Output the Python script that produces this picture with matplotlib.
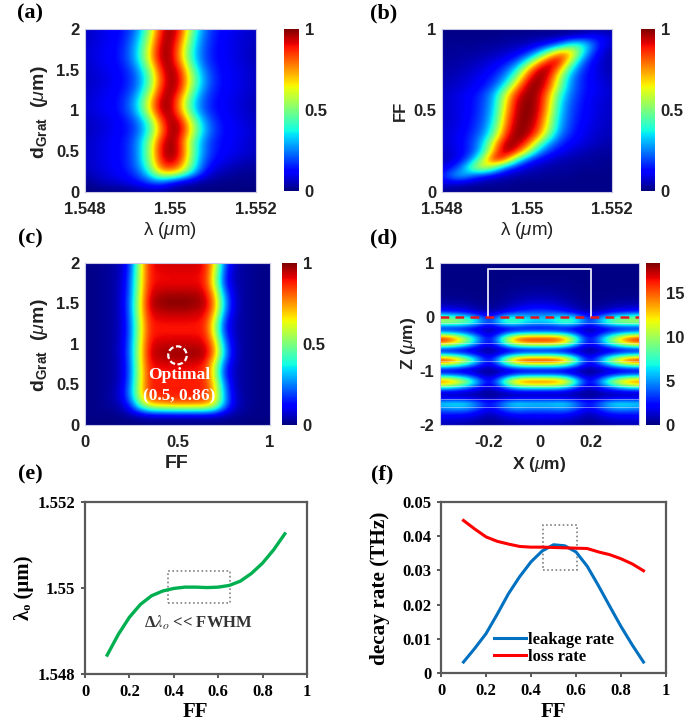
import numpy as np
import matplotlib
matplotlib.use('Agg')
import matplotlib.pyplot as plt
from matplotlib.patches import Rectangle, Ellipse

plt.rcParams['font.family'] = ['Liberation Sans', 'DejaVu Sans']
plt.rcParams['mathtext.fontset'] = 'custom'
plt.rcParams['mathtext.rm'] = 'Liberation Sans'
plt.rcParams['mathtext.it'] = 'Liberation Sans:italic'
plt.rcParams['mathtext.bf'] = 'Liberation Sans:bold'

W, H = 685, 721

# Panel (a): transmission in %, rows d = 2 .. 0, columns lambda = 1.548 .. 1.552
a_lam = [1.548, 1.552]
a_d = [0, 2]
a_map = [
    [6, 8, 10, 12, 16, 27, 50, 86, 100, 86, 50, 27, 16, 12, 10, 8, 6],
    [6, 8, 10, 12, 18, 31, 57, 91, 99, 80, 44, 24, 15, 11, 9, 7, 6],
    [7, 9, 11, 13, 20, 35, 64, 95, 98, 72, 39, 22, 14, 11, 9, 7, 5],
    [7, 9, 11, 13, 20, 35, 64, 95, 98, 72, 39, 22, 14, 11, 9, 7, 5],
    [6, 8, 10, 12, 16, 27, 50, 86, 100, 86, 50, 27, 16, 12, 10, 8, 6],
    [6, 7, 9, 11, 15, 24, 44, 80, 99, 91, 57, 31, 18, 12, 10, 8, 6],
    [6, 8, 10, 12, 16, 27, 50, 86, 100, 86, 50, 27, 16, 12, 10, 8, 6],
    [7, 9, 11, 13, 20, 35, 64, 95, 98, 72, 39, 22, 14, 11, 9, 7, 5],
    [7, 9, 11, 13, 20, 35, 64, 95, 98, 72, 39, 22, 14, 11, 9, 7, 5],
    [6, 7, 9, 11, 15, 24, 44, 80, 99, 91, 57, 31, 18, 12, 10, 8, 6],
    [5, 7, 9, 11, 14, 22, 39, 72, 98, 95, 64, 35, 20, 13, 11, 9, 7],
    [6, 8, 10, 12, 16, 27, 50, 86, 100, 86, 50, 27, 16, 12, 10, 8, 6],
    [6, 8, 10, 12, 16, 27, 52, 90, 100, 90, 52, 27, 16, 12, 10, 8, 6],
    [6, 8, 10, 12, 16, 27, 50, 86, 97, 84, 48, 24, 13, 9, 7, 5, 4],
    [5, 7, 9, 11, 15, 22, 40, 72, 80, 66, 40, 18, 7, 5, 3, 2, 2],
    [2, 4, 7, 8, 10, 14, 20, 22, 12, 5, 3, 2, 2, 1, 1, 1, 1],
    [0, 0, 0, 0, 0, 1, 1, 1, 1, 1, 1, 0, 0, 0, 0, 0, 0],
]

# Panel (b): transmission in %, rows FF = 1 .. 0, columns lambda = 1.548 .. 1.552
b_lam = [1.548, 1.552]
b_ff = [0, 1]
b_map = [
    [1, 1, 1, 1, 1, 1, 1, 1, 1, 1, 1, 1, 1, 1, 2, 2, 2],
    [1, 1, 1, 1, 1, 1, 2, 2, 2, 3, 3, 4, 6, 9, 13, 12, 8],
    [2, 2, 2, 2, 3, 3, 4, 5, 7, 10, 15, 25, 42, 45, 28, 12, 6],
    [2, 2, 3, 3, 4, 5, 7, 10, 16, 30, 55, 80, 78, 45, 20, 8, 4],
    [3, 3, 4, 5, 7, 9, 13, 20, 38, 68, 92, 95, 60, 28, 13, 7, 4],
    [3, 4, 5, 7, 9, 13, 20, 36, 68, 95, 98, 75, 40, 20, 12, 7, 4],
    [4, 5, 7, 9, 12, 17, 28, 52, 86, 100, 92, 60, 30, 17, 11, 8, 5],
    [5, 6, 8, 10, 14, 22, 40, 72, 96, 100, 86, 55, 28, 17, 12, 9, 6],
    [6, 8, 10, 13, 19, 32, 60, 88, 99, 97, 77, 44, 25, 16, 11, 9, 7],
    [6, 8, 10, 14, 20, 34, 66, 93, 100, 96, 73, 39, 22, 15, 10, 8, 6],
    [6, 8, 10, 14, 21, 36, 70, 95, 100, 95, 70, 36, 21, 14, 10, 8, 6],
    [6, 8, 10, 15, 22, 39, 75, 97, 100, 92, 64, 33, 20, 13, 10, 7, 6],
    [7, 8, 11, 16, 24, 44, 80, 98, 99, 88, 60, 31, 19, 12, 9, 7, 5],
    [7, 9, 12, 18, 28, 52, 87, 100, 97, 80, 50, 26, 16, 11, 8, 6, 5],
    [7, 9, 13, 20, 36, 70, 97, 98, 86, 55, 30, 18, 12, 9, 7, 5, 4],
    [6, 8, 12, 20, 40, 78, 100, 90, 62, 32, 18, 12, 8, 6, 4, 3, 3],
    [5, 7, 14, 30, 62, 95, 82, 45, 22, 12, 8, 5, 4, 3, 3, 2, 2],
    [8, 14, 28, 55, 65, 45, 22, 12, 7, 5, 4, 3, 3, 2, 2, 2, 1],
    [15, 28, 32, 20, 12, 8, 5, 4, 3, 3, 2, 2, 2, 1, 1, 1, 1],
    [8, 6, 4, 3, 2, 2, 2, 1, 1, 1, 1, 1, 1, 1, 1, 1, 1],
    [1, 1, 1, 1, 1, 1, 1, 1, 1, 1, 1, 1, 1, 1, 1, 1, 1],
]

# Panel (c): transmission in %, rows d = 2 .. 0, columns FF = 0 .. 1
c_ff = [0, 1]
c_d = [0, 2]
c_map = [
    [1, 1, 2, 3, 6, 20, 60, 90, 92, 93, 93, 93, 93, 90, 68, 25, 7, 3, 2, 1, 1],
    [1, 1, 2, 3, 6, 22, 61, 89, 90, 91, 91, 91, 91, 89, 62, 20, 6, 3, 2, 1, 1],
    [1, 1, 2, 3, 7, 24, 62, 89, 90, 90, 90, 90, 90, 88, 60, 18, 6, 3, 2, 1, 1],
    [1, 1, 2, 3, 7, 25, 64, 92, 95, 96, 96, 96, 96, 92, 72, 28, 8, 3, 2, 1, 1],
    [1, 1, 2, 3, 8, 27, 66, 95, 98, 100, 100, 100, 98, 96, 78, 35, 9, 3, 2, 1, 1],
    [1, 1, 2, 3, 7, 26, 65, 91, 93, 94, 94, 94, 93, 91, 72, 28, 8, 3, 2, 1, 1],
    [1, 1, 2, 3, 7, 24, 62, 88, 89, 89, 89, 89, 89, 87, 60, 18, 6, 3, 2, 1, 1],
    [1, 1, 2, 3, 7, 24, 62, 88, 89, 89, 89, 89, 89, 88, 62, 20, 7, 3, 2, 1, 1],
    [1, 1, 2, 3, 8, 26, 64, 91, 93, 94, 94, 94, 94, 92, 75, 30, 8, 3, 2, 1, 1],
    [1, 1, 2, 3, 8, 27, 65, 93, 96, 98, 98, 98, 98, 96, 78, 35, 9, 3, 2, 1, 1],
    [1, 1, 2, 3, 7, 25, 64, 90, 91, 92, 92, 92, 91, 88, 62, 22, 7, 3, 2, 1, 1],
    [1, 1, 2, 3, 7, 25, 62, 88, 88, 88, 88, 88, 88, 86, 60, 18, 6, 3, 2, 1, 1],
    [1, 1, 2, 3, 8, 27, 64, 88, 88, 88, 88, 88, 88, 87, 68, 28, 7, 3, 2, 1, 1],
    [1, 1, 2, 4, 10, 30, 64, 87, 88, 89, 89, 89, 88, 87, 72, 32, 9, 3, 2, 1, 1],
    [1, 1, 2, 3, 6, 20, 50, 70, 76, 78, 80, 80, 80, 78, 66, 32, 10, 4, 2, 1, 1],
    [1, 1, 1, 1, 2, 3, 4, 5, 5, 5, 5, 5, 5, 5, 5, 4, 3, 2, 1, 1, 1],
    [0, 0, 0, 0, 0, 0, 0, 0, 0, 0, 0, 0, 0, 0, 0, 0, 0, 0, 0, 0, 0],
]

# Panel (d): |E|^2, rows z = 1 .. -2, columns x = 0 .. 0.39 (mirrored to negative x)
d_x = [-0.39, 0.39]
d_z = [-2, 1]
d_half = [
    [.1, .1, .1, .1, .1, .1, .1, .1, .1],
    [.1, .1, .1, .1, .1, .1, .1, .1, .1],
    [.1, .1, .1, .1, .1, .1, .1, .1, .1],
    [.2, .2, .15, .1, .1, .1, .1, .1, .1],
    [.3, .3, .25, .15, .1, .1, .1, .1, .1],
    [.5, .45, .35, .2, .1, .1, .15, .15, .15],
    [.8, .7, .5, .3, .15, .15, .2, .25, .25],
    [1.2, 1.1, .8, .4, .2, .25, .4, .45, .5],
    [2, 1.8, 1.3, .7, .3, .5, .9, 1, 1.1],
    [3.5, 3.2, 2.5, 1.2, .6, 1, 2, 2.4, 2.6],
    [5.5, 6, 7, 6, 2, 5, 7, 8, 9],
    [6.5, 7, 9, 8, 3, 7, 10, 11, 11],
    [1.5, 1.5, 1.8, 1.5, .8, 1.5, 2, 2, 2],
    [6, 6, 5, 3, .6, 2.5, 4.5, 6, 6.5],
    [17, 17, 15.5, 8, 1.5, 6, 11, 16, 17.5],
    [13, 13, 11, 6, 1.2, 4.5, 8.5, 12, 13.5],
    [1.5, 1.5, 1.4, .9, .3, .8, 1.2, 1.5, 1.5],
    [6.5, 6.5, 5.5, 3, .7, 2.5, 4.5, 6, 6.5],
    [18, 18, 16, 8.5, 1.6, 6.5, 12, 17, 18.3],
    [8, 8, 7, 4, .9, 3, 5.5, 7.5, 8],
    [.8, .8, .8, .5, .2, .5, .7, .8, .8],
    [7, 7, 6, 3, .7, 2.5, 5, 6.5, 7],
    [16, 16, 14.5, 7.5, 1.5, 6, 11, 15, 16],
    [7.5, 7.5, 6.5, 3.5, .8, 3, 5, 7, 7.5],
    [1, 1, 1, .6, .3, .6, 1, 1, 1],
    [1.5, 1.5, 1.3, 1, .5, 1, 1.3, 1.5, 1.5],
    [6.5, 6.5, 7, 5, 2.5, 5, 7, 7, 6.5],
    [4.5, 4.5, 5, 3.5, 1.5, 3.5, 5, 5, 4.5],
    [2.5, 2.5, 2.5, 1.8, .8, 1.8, 2.5, 2.5, 2.5],
    [1.5, 1.5, 1.3, 1, .4, 1, 1.3, 1.5, 1.5],
    [.8, .8, .7, .5, .2, .5, .7, .8, .8],
]
d_layers = [-0.12, -0.49, -0.81, -1.28, -1.52, -1.66]

# Panel (e)
e_ff = [.1, .15, .2, .25, .3, .35, .4, .45, .5, .55, .6, .65, .7, .75, .8, .85, .9]
e_lam = [1.54844, 1.54892, 1.54932, 1.54962, 1.54982, 1.54993, 1.54999, 1.55002, 1.55002,
         1.55001, 1.55002, 1.55006, 1.55016, 1.55034, 1.55058, 1.55089, 1.55126]

# Panel (f)
f_ff = [.1, .15, .2, .25, .3, .35, .4, .45, .5, .55, .6, .65, .7, .75, .8, .85, .9]
f_leak = [.0032, .0072, .0115, .0172, .0232, .0282, .0325, .0357, .0375, .0372, .0354, .0312,
          .0255, .0195, .0136, .0082, .0032]
f_loss = [.0446, .0421, .0398, .0385, .0377, .037, .0368, .0368, .0367, .0366, .0365, .0364,
          .0354, .0346, .0334, .0319, .0299]

SANS_COL = '#222222'
SERIF = ['Liberation Serif', 'DejaVu Serif']

fig = plt.figure(figsize=(W / 100, H / 100), dpi=100)


def pix_ax(x0, y0, x1, y1):
    return fig.add_axes([x0 / W, 1 - y1 / H, (x1 - x0) / W, (y1 - y0) / H])


def pix_text(x, y, s, **kw):
    kw.setdefault('ha', 'center')
    kw.setdefault('va', 'center')
    fig.text(x / W, 1 - y / H, s, **kw)


def heat(box, cbox, data, xr, yr, xticks, xlabs, yticks, ylabs, vmax, cticks, clabs):
    ax = pix_ax(*box)
    data = np.array(data, dtype=float)
    dx = (xr[1] - xr[0]) / (data.shape[1] - 1)
    dy = (yr[1] - yr[0]) / (data.shape[0] - 1)
    im = ax.imshow(data, cmap='jet', vmin=0, vmax=vmax, aspect='auto', interpolation='bicubic',
                   origin='upper', extent=[xr[0] - dx / 2, xr[1] + dx / 2, yr[0] - dy / 2, yr[1] + dy / 2])
    ax.set_xlim(xr)
    ax.set_ylim(yr)
    ax.set_xticks(xticks, xlabs, fontsize=12, fontweight='bold', color=SANS_COL)
    ax.set_yticks(yticks, ylabs, fontsize=12, fontweight='bold', color=SANS_COL)
    ax.tick_params(axis='both', length=0)
    ax.tick_params(axis='x', pad=7)
    ax.tick_params(axis='y', pad=4)
    for s in ax.spines.values():
        s.set_color('#c8c8e6')
        s.set_linewidth(0.8)
    cax = pix_ax(*cbox)
    cb = fig.colorbar(im, cax=cax)
    cb.set_ticks(cticks, labels=clabs, fontsize=12, fontweight='bold', color=SANS_COL)
    cb.ax.tick_params(length=0, pad=4)
    cb.outline.set_visible(False)
    return ax


d_ticks = [0, .5, 1, 1.5, 2]
d_labs = ['0', '0.5', '1', '1.5', '2']
lam_ticks = [1.548, 1.55, 1.552]
lam_labs = ['1.548', '1.55', '1.552']
unit_ticks = [0, .5, 1]
unit_labs = ['0', '0.5', '1']

heat((85, 29, 256, 192), (284, 29, 299, 191), a_map, a_lam, a_d, lam_ticks, lam_labs, d_ticks, d_labs,
     100, [0, 50, 100], unit_labs)
heat((442, 29, 612, 192), (641, 29, 655, 191), b_map, b_lam, b_ff, lam_ticks, lam_labs, unit_ticks, unit_labs,
     100, [0, 50, 100], unit_labs)
ax_c = heat((85, 263, 270, 425), (282, 263, 297, 425), c_map, c_ff, c_d, unit_ticks, unit_labs, d_ticks, d_labs,
            100, [0, 50, 100], unit_labs)
d_full = np.hstack([np.array(d_half)[:, :0:-1], np.array(d_half)])
ax_d = heat((440, 263, 639, 425), (646, 263, 660, 425), d_full, d_x, d_z, [-.2, 0, .2], ['-0.2', '0', '0.2'],
            [-2, -1, 0, 1], ['-2', '-1', '0', '1'], 18.4, [0, 5, 10, 15], ['0', '5', '10', '15'])

# annotation on (c)
ax_c.add_patch(Ellipse((.5, .86), .1, .222, fill=False, ec='white', lw=1.6, ls=(0, (2.5, 1.2))))
ax_c.text(.51, .617, 'Optimal', color='white', fontsize=12.5, fontweight='bold', family=SERIF, ha='center', va='center')
ax_c.text(.51, .358, '(0.5, 0.86)', color='white', fontsize=12.5, fontweight='bold', family=SERIF, ha='center', va='center')

# structure outline on (d)
for z in d_layers:
    ax_d.axhline(z, color='#e8e8f8', lw=0.6, alpha=.55)
ax_d.plot([-.2, -.2, .2, .2], [0, .895, .895, 0], color='#d8d8f0', lw=1.4)
ax_d.plot(d_x, [0, 0], color='#e6141e', lw=1.8, ls=(0, (3.5, 2.5)))


def line_axes(box):
    ax = pix_ax(*box)
    for s in ax.spines.values():
        s.set_color('#595959')
        s.set_linewidth(1.6)
    ax.tick_params(length=3, width=1.4, color='#595959', pad=4)
    return ax


ff_ticks = [0, .2, .4, .6, .8, 1]
ff_labs = ['0', '0.2', '0.4', '0.6', '0.8', '1']

# (e)
ax_e = line_axes((85, 502, 307, 674))
ax_e.plot(e_ff, e_lam, color='#00b050', lw=2.4, solid_joinstyle='round')
ax_e.set_xlim(0, 1)
ax_e.set_ylim(1.548, 1.552)
ax_e.set_xticks(ff_ticks, ff_labs, fontsize=12, fontweight='bold', family=SERIF)
ax_e.set_yticks(lam_ticks, lam_labs, fontsize=12, fontweight='bold', family=SERIF)
ax_e.add_patch(Rectangle((.375, 1.54964), .28, .00076, fill=False, ec='#808080', lw=1.2, ls=(0, (1, 1.5))))
ax_e.text(.512, 1.5492, r'Δ$\lambda_{o}$ << FWHM', fontsize=12, fontweight='bold', family=SERIF,
          math_fontfamily='stix', color='#333333', ha='center', va='center')

# (f)
ax_f = line_axes((441, 502, 666, 673))
ax_f.plot(f_ff, f_leak, color='#0070c0', lw=2.2, label='leakage rate', solid_joinstyle='round')
ax_f.plot(f_ff, f_loss, color='#ff0000', lw=2.2, label='loss rate', solid_joinstyle='round')
ax_f.set_xlim(0, 1)
ax_f.set_ylim(0, .05)
ax_f.set_xticks(ff_ticks, ff_labs, fontsize=12, fontweight='bold', family=SERIF)
ax_f.set_yticks([0, .01, .02, .03, .04, .05], ['0', '0.01', '0.02', '0.03', '0.04', '0.05'],
                fontsize=12, fontweight='bold', family=SERIF)
ax_f.add_patch(Rectangle((.455, .03), .15, .0134, fill=False, ec='#808080', lw=1.2, ls=(0, (1, 1.5))))
ax_f.legend(loc='lower left', bbox_to_anchor=(.2, 0.0), frameon=False, handlelength=1.9, handletextpad=.15,
            labelspacing=.05, borderpad=0, prop={'family': SERIF, 'weight': 'bold', 'size': 12})

# axis labels
pix_text(170, 230, r'λ ($\mu$m)', fontsize=13.5, color=SANS_COL)
pix_text(527, 230, r'λ ($\mu$m)', fontsize=13.5, color=SANS_COL)
pix_text(177, 463, 'FF', fontsize=14, fontweight='bold', color=SANS_COL)
pix_text(539, 465, r'X ($\mu$m)', fontsize=12.5, fontweight='bold', color=SANS_COL)
pix_text(40, 112, r'd$_{\mathbf{Grat}}$  ($\mu$m)', fontsize=14, fontweight='bold', rotation=90, color=SANS_COL)
pix_text(40, 345, r'd$_{\mathbf{Grat}}$  ($\mu$m)', fontsize=14, fontweight='bold', rotation=90, color=SANS_COL)
pix_text(400, 111, 'FF', fontsize=12, fontweight='bold', rotation=90, color=SANS_COL)
pix_text(408, 343, r'Z ($\mu$m)', fontsize=12.5, fontweight='bold', rotation=90, color=SANS_COL)
pix_text(195, 712, 'FF', fontsize=15, fontweight='bold', family=SERIF)
pix_text(553, 712, 'FF', fontsize=15, fontweight='bold', family=SERIF)
pix_text(24, 588, 'λₒ (μm)', fontsize=15, fontweight='bold', rotation=90, family=SERIF)
pix_text(380, 588, 'decay rate (THz)', fontsize=15.3, fontweight='bold', rotation=90, family=SERIF)

# panel letters
for letter, x, y in [('(a)', 30, 13), ('(b)', 384, 13), ('(c)', 30, 238), ('(d)', 384, 238), ('(e)', 30, 474), ('(f)', 382, 474)]:
    pix_text(x, y, letter, fontsize=16, fontweight='bold', family=SERIF)

fig.savefig('out.png', dpi=100)
